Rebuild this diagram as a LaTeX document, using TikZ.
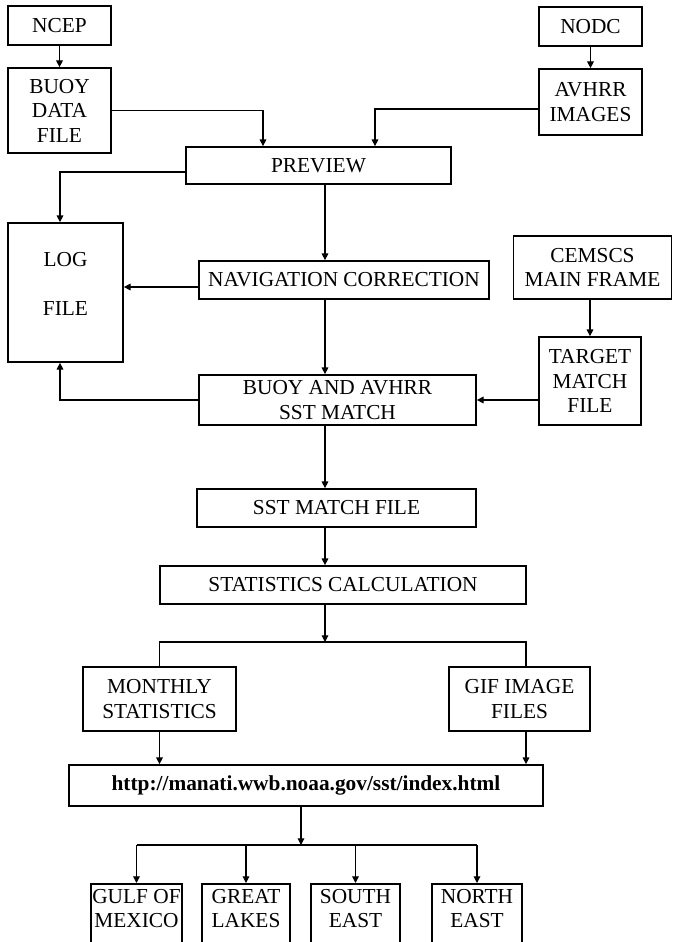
\documentclass[tikz,border=0pt]{standalone}
\usepackage{fontspec}
\setmainfont{Liberation Serif}
\usetikzlibrary{arrows.meta}
\usetikzlibrary{positioning, calc}

\begin{document}
\begin{tikzpicture}[x=0.75pt, y=-0.75pt,
    dims/.style 2 args={minimum width=#1*0.75pt, minimum height=#2*0.75pt},
    block/.style={draw, line width=1.3pt, align=center, inner xsep=1pt,
        font=\fontsize{16}{18.4}\selectfont},
    flow/.style={line width=0.8pt, -{Triangle[length=5pt, width=5pt]}},
    link/.style={line width=0.8pt}]
    \clip (0,0) rectangle (673,942);

    % sources
    \node[block, dims={103}{39}] (ncep) at (59.5,25.5) {NCEP};
    \node[block, dims={103}{85}] (buoy) at (59.5,110.5) {BUOY\\DATA\\FILE};
    \node[block, dims={103}{39}] (nodc) at (590.5,26.5) {NODC};
    \node[block, dims={103}{66}] (avhrr) at (590.5,102) {AVHRR\\IMAGES};
    \node[block, dims={265}{37}] (preview) at (318.5,165.5) {PREVIEW};
    \node[block, dims={115}{139}] (log) at (65.5,292.5) {LOG\\[18.4pt]FILE\\[-6pt]\mbox{}};
    \node[block, dims={290}{38}] (nav) at (344,280) {NAVIGATION CORRECTION};
    \node[block, dims={158}{63}] (cemscs) at (592.5,267.5) {CEMSCS\\MAIN FRAME};
    \node[block, dims={102}{88}] (target) at (590,381) {TARGET\\MATCH\\FILE};
    \node[block, dims={277}{50}] (match) at (337.5,400) {BUOY AND AVHRR\\SST MATCH};
    \node[block, dims={279}{38}] (sstfile) at (336.5,508) {SST MATCH FILE};
    \node[block, dims={366}{38}] (stat) at (343,585) {STATISTICS CALCULATION};
    \node[block, dims={153}{64}] (monthly) at (159.5,699) {MONTHLY\\STATISTICS};
    \node[block, dims={141}{64}] (gif) at (519.5,699) {GIF IMAGE\\FILES};
    \node[block, dims={474}{41}, font=\fontsize{16}{19}\selectfont\bfseries] (url) at (306,785.5)
        {http://manati.wwb.noaa.gov/sst/index.html};

    % regions (cut off at the bottom)
    \node[block, anchor=north, dims={89}{10}, inner ysep=4pt, text depth=25pt] (gulf) at (136.5,883) {GULF OF\\MEXICO};
    \node[block, anchor=north, dims={88}{10}, inner ysep=4pt, text depth=25pt] (lakes) at (246,883) {GREAT\\LAKES};
    \node[block, anchor=north, dims={89}{10}, inner ysep=4pt, text depth=25pt] (seast) at (355.5,883) {SOUTH\\EAST};
    \node[block, anchor=north, dims={90}{10}, inner ysep=4pt, text depth=25pt] (neast) at (477,883) {NORTH\\EAST};

    % turning points
    \coordinate (xa) at (263,0);
    \coordinate (xb) at (375,0);
    \coordinate (xc) at (60,0);
    \coordinate (xd) at (325,0);
    \coordinate (xe) at (526,0);
    \coordinate (xf) at (301,0);
    \coordinate (ya) at (0,109);
    \coordinate (yb) at (0,172);
    \coordinate (yc) at (0,287);
    \coordinate (yd) at (0,642);
    \coordinate (ye) at (0,845);

    \draw[flow] (ncep) -- (buoy);
    \draw[flow] (nodc) -- (avhrr);
    \draw[flow] (buoy.east) -| (preview.north -| xa);
    \draw[flow] (avhrr.west |- ya) -| (preview.north -| xb);
    \draw[flow] (preview.west |- yb) -| (log.north -| xc);
    \draw[flow] (preview.south -| xd) -- (nav.north -| xd);
    \draw[flow] (nav.west |- yc) -- (log.east |- yc);
    \draw[flow] (nav.south -| xd) -- (match.north -| xd);
    \draw[flow] (match.west) -| (log.south -| xc);
    \draw[flow] (cemscs.south -| target) -- (target.north);
    \draw[flow] (target.west |- match.east) -- (match.east);
    \draw[flow] (match.south -| xd) -- (sstfile.north -| xd);
    \draw[flow] (sstfile.south -| xd) -- (stat.north -| xd);
    \draw[flow] (stat.south -| xd) -- (xd |- yd);
    \draw[link] (monthly.north) |- (xe |- yd) -- (gif.north -| xe);
    \draw[flow] (monthly.south) -- (url.north -| monthly);
    \draw[flow] (gif.south -| xe) -- (url.north -| xe);
    \draw[flow] (url.south -| xf) -- (xf |- ye);
    \draw[link] (gulf |- ye) -- (neast |- ye);
    \foreach \r in {gulf, lakes, seast, neast}
        \draw[flow] (\r |- ye) -- (\r.north);
\end{tikzpicture}
\end{document}
